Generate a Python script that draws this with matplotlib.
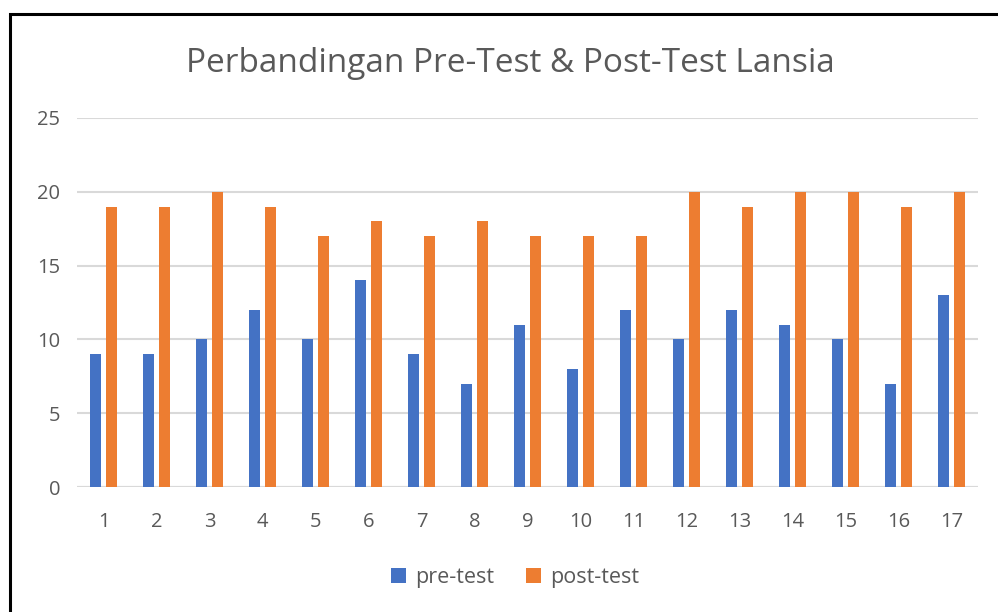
import matplotlib.pyplot as plt
import numpy as np
from matplotlib.patches import Rectangle

# Data
kategori = list(range(1, 18))
pre_test = [9, 9, 10, 12, 10, 14, 9, 7, 11, 8, 12, 10, 12, 11, 10, 7, 13]
post_test = [19, 19, 20, 19, 17, 18, 17, 18, 17, 17, 17, 20, 19, 20, 20, 19, 20]

plt.rcParams['font.family'] = ['Open Sans', 'DejaVu Sans']

fig = plt.figure(figsize=(9.98, 6.12), dpi=100)
ax = fig.add_axes([0.0772, 0.2042, 0.9028, 0.603])

x = np.arange(len(kategori))
lebar = 0.22
ax.bar(x - 0.153, pre_test, lebar, color='#4472C4', label='pre-test', zorder=3)
ax.bar(x + 0.153, post_test, lebar, color='#ED7D31', label='post-test', zorder=3)

ax.set_xlim(-0.5, len(kategori) - 0.5)
ax.set_ylim(0, 25)
ax.set_yticks([0, 5, 10, 15, 20, 25])
ax.set_xticks(x)
ax.set_xticklabels([str(k) for k in kategori])
ax.grid(axis='y', color='#d9d9d9', linewidth=1.5, zorder=0)
ax.tick_params(length=0, labelsize=14.5, colors='#595959')
ax.tick_params(axis='x', pad=18)
ax.tick_params(axis='y', pad=12)
for s in ax.spines.values():
    s.set_visible(False)
ax.axhline(0, color='#d9d9d9', linewidth=1.5, zorder=2)

fig.text(0.511, 0.896, 'Perbandingan Pre-Test & Post-Test Lansia',
         ha='center', va='center', fontsize=24, color='#595959')

fig.legend(loc='center', bbox_to_anchor=(0.516, 0.057), ncol=2, frameon=False,
           fontsize=15.5, labelcolor='#595959', handlelength=0.7, handleheight=0.7,
           columnspacing=1.5, handletextpad=0.4)

# bingkai hitam
fig.patches.append(Rectangle((9.5 / 998, -0.1), 1.2, 1 - 13.5 / 612 + 0.1,
                             transform=fig.transFigure, fill=False,
                             edgecolor='black', linewidth=2.2))

fig.savefig('out.png', dpi=100)
